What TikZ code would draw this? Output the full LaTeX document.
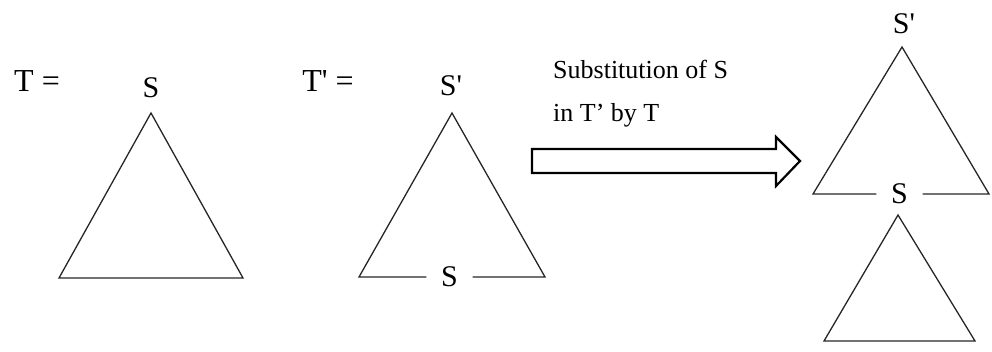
\documentclass[tikz,border=0pt]{standalone}
\usepackage{fontspec}
\setmainfont{Liberation Serif}
\usetikzlibrary{positioning}

\begin{document}
\begin{tikzpicture}[x=1pt, y=-1pt,
    tree/.style={draw=black!85, line width=1.3pt, line join=miter},
    subst/.style={draw=black, line width=2.2pt, line join=miter},
    root/.style={font=\fontsize{30}{34}\selectfont, inner sep=0pt},
    foot/.style={font=\fontsize{30}{34}\selectfont, inner sep=0pt, minimum width=46pt},
    eqlab/.style={font=\fontsize{32}{36}\selectfont, inner sep=0pt},
    note/.style={font=\fontsize{26}{30}\selectfont, inner sep=0pt, anchor=base west}
  ]
  \useasboundingbox (0,0) rectangle (992,352);

  % T = S
  \node[eqlab] (teq) at (37,81) {T =};
  \node[root] (sa) at (151,88) {S};
  \draw[tree] (151,113) -- (243,278) -- (59,278) -- cycle;

  % T' = S' with S at the foot
  \node[eqlab] (tpeq) at (328,81) {T\textquotesingle\ =};
  \node[root] (spb) at (451,86) {S\textquotesingle};
  \node[foot] (sb) at (449.5,277) {S};
  \draw[tree] (sb.west) -- (359,277) -- (452,113) -- (545,277) -- (sb.east);

  % substitution arrow
  \node[note] (line1) at (553,79) {Substitution of S};
  \node[note] (line2) at (553,122) {in T’ by T};
  \draw[subst] (532,149) -- (776,149) -- (776,137) -- (800,161)
    -- (776,186) -- (776,173) -- (532,173) -- cycle;

  % result
  \node[root] (spc) at (904,24) {S\textquotesingle};
  \node[foot] (sc) at (899.5,194) {S};
  \draw[tree] (sc.west) -- (813,194) -- (902,47) -- (989,194) -- (sc.east);
  \draw[tree] (898,215) -- (975,341) -- (824,341) -- cycle;
\end{tikzpicture}
\end{document}
